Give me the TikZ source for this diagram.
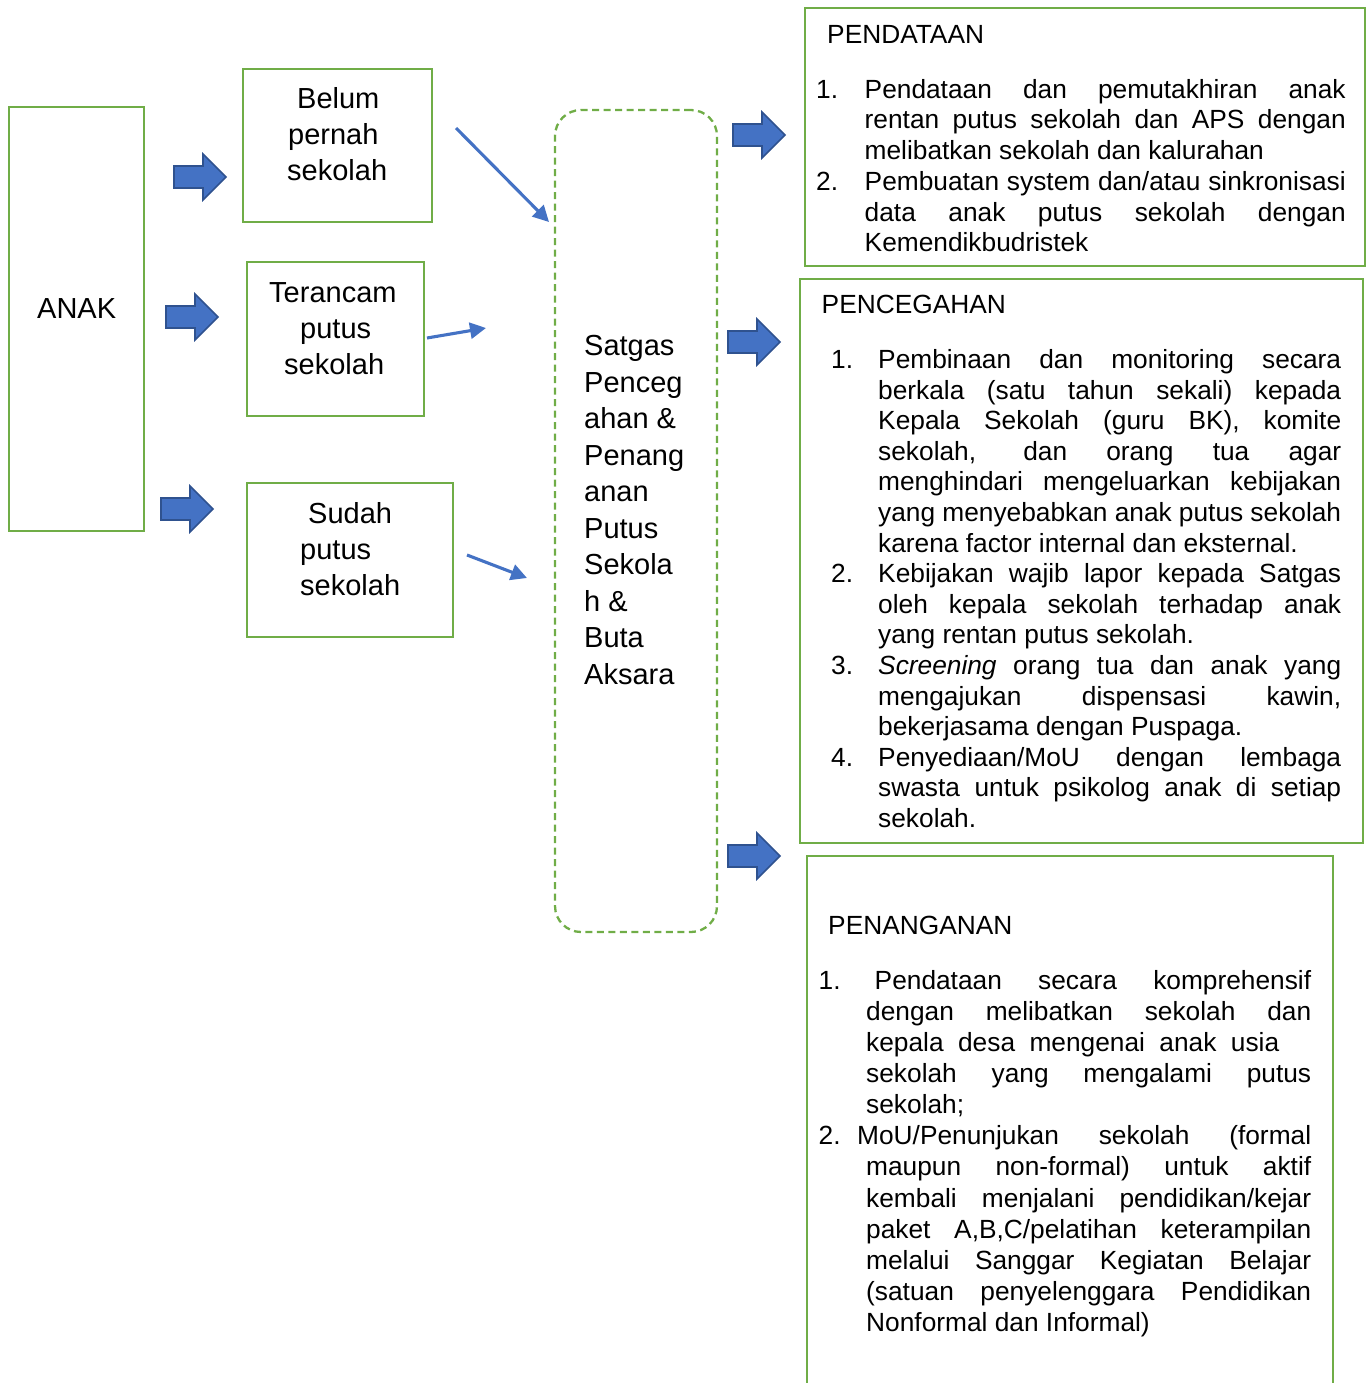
\documentclass[tikz,border=0pt]{standalone}
\usepackage{fontspec}
\setmainfont{Liberation Sans}
\usetikzlibrary{positioning, arrows.meta, calc}

\definecolor{boxgreen}{HTML}{70AD47}
\definecolor{arrowblue}{HTML}{4472C4}
\definecolor{arrowedge}{HTML}{2F528F}

% justified line of given width, 0 = natural width
\newcommand{\jline}[2]{\ifdim #1pt>0pt\makebox[#1pt][s]{#2}\else#2\fi}

\tikzset{
    greenbox/.style={draw=boxgreen, line width=2.8pt, anchor=north west, inner sep=0pt, outer sep=0pt},
    dashbox/.style={draw=boxgreen, line width=2.3pt, dash pattern=on 7pt off 4.5pt, rounded corners=26pt,
        anchor=north west, inner sep=0pt, outer sep=0pt},
    bigtext/.style={anchor=base west, inner sep=0pt, font=\fontsize{29}{36}\selectfont},
    listtext/.style={anchor=base west, inner sep=0pt, font=\fontsize{26.3}{30.7}\selectfont},
    thinarrow/.style={draw=arrowblue, line width=3.1pt, -{Triangle[length=16pt, width=16pt]}},
    fatarrow/.pic={
        \draw[fill=arrowblue, draw=arrowedge, line width=1.6pt, line join=miter]
            (0,-11) -- (29,-11) -- (29,-23) -- (52,0) -- (29,23) -- (29,11) -- (0,11) -- cycle;
    }
}

\begin{document}
\begin{tikzpicture}[x=1pt, y=-1pt]
        \useasboundingbox (0,0) rectangle (1371,1383);

        % boxes
        \node[greenbox, minimum width=135pt, minimum height=424pt] (anak) at (9,107) {};
        \node[greenbox, minimum width=189pt, minimum height=153pt] (belum) at (243,69) {};
        \node[greenbox, minimum width=177pt, minimum height=154pt] (terancam) at (247,262) {};
        \node[greenbox, minimum width=206pt, minimum height=154pt] (sudah) at (247,483) {};
        \node[dashbox, minimum width=162pt, minimum height=822pt] (satgas) at (555,110) {};
        \node[greenbox, minimum width=560pt, minimum height=258pt] (pendataan) at (805,8) {};
        \node[greenbox, minimum width=563pt, minimum height=564pt] (pencegahan) at (800,279) {};

        % penanganan box runs off the page
        \coordinate (pn-bl) at (807,1383);
        \coordinate (pn-br) at (1333,1383);
        \draw[draw=boxgreen, line width=2.8pt] (pn-bl) |- (1333,856) -- (pn-br);

        % block arrows
        \foreach \x/\y in {174/177, 166/317, 161/509, 733/135, 728/342, 728/856}
        {
            \pic at (\x,\y) {fatarrow};
        }

        % thin arrows into satgas
        \coordinate (belum-out) at (456,128);
        \coordinate (belum-in) at (549,222);
        \coordinate (terancam-out) at (427,338);
        \coordinate (terancam-in) at (486,328);
        \coordinate (sudah-out) at (467,555);
        \coordinate (sudah-in) at (527,578);
        \draw[thinarrow] (belum-out) -- (belum-in);
        \draw[thinarrow] (terancam-out) -- (terancam-in);
        \draw[thinarrow] (sudah-out) -- (sudah-in);

        % left texts
        \foreach \n/\x/\y/\t in {anak-t/37/318/ANAK,
            belum-1/297/109/Belum, belum-2/288/145/pernah, belum-3/287/181/sekolah,
            terancam-1/269/302/Terancam, terancam-2/300/338/putus, terancam-3/284/374/sekolah,
            sudah-1/308/523/Sudah, sudah-2/300/559/putus, sudah-3/300/595/sekolah}
        {
            \node[bigtext] (\n) at (\x,\y) {\t};
        }

        % satgas text
        \foreach \t [count=\i] in {Satgas, Penceg, ahan \&, Penang, anan, Putus, Sekola, h \&, Buta, Aksara}
        {
            \node[bigtext] (satgas-\i) at (584,{355.5+36.5*(\i-1)}) {\t};
        }

        % pendataan
        \node[listtext] (pendataan-head) at (827,43.5) {PENDATAAN};
        \foreach \n/\y/\t in {pendataan-n1/98.3/1., pendataan-n2/190.4/2.}
        {
            \node[listtext] (\n) at (816,\y) {\t};
        }
        \foreach \w/\t [count=\i] in {
            481/{Pendataan dan pemutakhiran anak},
            481/{rentan putus sekolah dan APS dengan},
            0/{melibatkan sekolah dan kalurahan},
            481/{Pembuatan system dan/atau sinkronisasi},
            481/{data anak putus sekolah dengan},
            0/{Kemendikbudristek}}
        {
            \node[listtext] (pendataan-\i) at (864.5,{98.3+30.7*(\i-1)}) {\jline{\w}{\t}};
        }

        % pencegahan
        \node[listtext] (pencegahan-head) at (821.5,313.5) {PENCEGAHAN};
        \foreach \n/\y/\t in {pencegahan-n1/368.5/1., pencegahan-n2/582.7/2.,
            pencegahan-n3/674.5/3., pencegahan-n4/766.3/4.}
        {
            \node[listtext] (\n) at (831,\y) {\t};
        }
        \foreach \w/\t [count=\i] in {
            463/{Pembinaan dan monitoring secara},
            463/{berkala (satu tahun sekali) kepada},
            463/{Kepala Sekolah (guru BK), komite},
            463/{sekolah, dan orang tua agar},
            463/{menghindari mengeluarkan kebijakan},
            463/{yang menyebabkan anak putus sekolah},
            0/{karena factor internal dan eksternal.},
            463/{Kebijakan wajib lapor kepada Satgas},
            463/{oleh kepala sekolah terhadap anak},
            0/{yang rentan putus sekolah.},
            463/{\textit{Screening} orang tua dan anak yang},
            463/{mengajukan dispensasi kawin,},
            0/{bekerjasama dengan Puspaga.},
            463/{Penyediaan/MoU dengan lembaga},
            463/{swasta untuk psikolog anak di setiap},
            0/{sekolah.}}
        {
            \node[listtext] (pencegahan-\i) at (878,{368.5+30.6*(\i-1)}) {\jline{\w}{\t}};
        }

        % penanganan
        \node[listtext] (penanganan-head) at (828,934.3) {PENANGANAN};
        \foreach \n/\y/\t in {penanganan-n1/989/1., penanganan-n2/1144.8/2.}
        {
            \node[listtext] (\n) at (818.5,\y) {\t};
        }
        \foreach \x/\w/\t [count=\i] in {
            874.5/436.5/{Pendataan secara komprehensif},
            866/445/{dengan melibatkan sekolah dan},
            866/413/{kepala desa mengenai anak usia},
            866/445/{sekolah yang mengalami putus},
            866/0/{sekolah;},
            857/454/{MoU/Penunjukan sekolah (formal},
            866/445/{maupun non-formal) untuk aktif},
            866/445/{kembali menjalani pendidikan/kejar},
            866/445/{paket A,B,C/pelatihan keterampilan},
            866/445/{melalui Sanggar Kegiatan Belajar},
            866/445/{(satuan penyelenggara Pendidikan},
            866/0/{Nonformal dan Informal)}}
        {
            \node[listtext] (penanganan-\i) at (\x,{989+31.15*(\i-1)}) {\jline{\w}{\t}};
        }
\end{tikzpicture}
\end{document}
